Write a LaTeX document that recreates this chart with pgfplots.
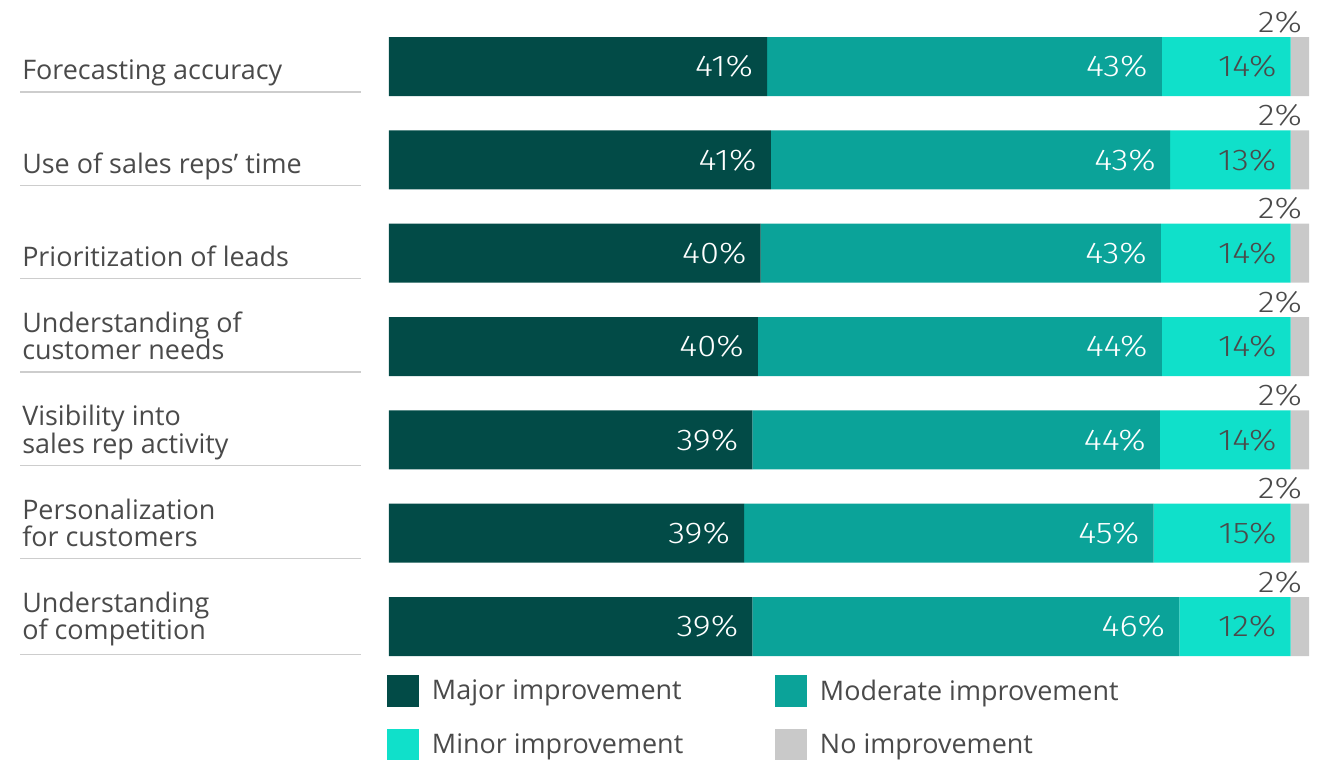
\documentclass[border=0pt]{standalone}
\usepackage{pgfplots}
\pgfplotsset{compat=1.18}
\usepackage{pgfplotstable}
\usepackage{fontspec}
\setmainfont{Open Sans}
\newfontfamily\numfont{Fira Sans Light}[FakeStretch=1.15]
\definecolor{cmajor}{HTML}{024B47}
\definecolor{cmod}{HTML}{0BA399}
\definecolor{cminor}{HTML}{10E0CA}
\definecolor{cnone}{HTML}{C9C9C9}
\definecolor{tgray}{HTML}{4A4A4A}
\definecolor{lgray}{HTML}{CDCDCD}

\pgfplotstableread{
row maj mod min non lmaj lmod lmin lnon
1 41.1 42.9 14.0 2.0 41 43 14 2
2 41.5 43.4 13.1 2.0 41 43 13 2
3 40.4 43.5 14.1 2.0 40 43 14 2
4 40.1 43.9 14.0 2.0 40 44 14 2
5 39.5 44.3 14.2 2.0 39 44 14 2
6 38.6 44.5 14.9 2.0 39 45 15 2
7 39.5 46.4 12.1 2.0 39 46 12 2
}\data

\begin{document}
\begin{tikzpicture}
\path[use as bounding box] (0,0) rectangle (996pt,570pt);
\begin{axis}[
  at={(291.75pt,65.12pt)}, anchor=south west,
  scale only axis, width=690pt, height=490pt,
  xbar stacked, bar width=44.25pt,
  xmin=0, xmax=100, ymin=0.5, ymax=7.5,
  y dir=reverse, enlargelimits=false, clip=false,
  hide x axis,
  axis line style={draw=none}, tick style={draw=none},
  ytick={1,...,7},
  yticklabels={
    {Forecasting accuracy\strut},
    {Use of sales reps’ time\strut},
    {Prioritization of leads\strut},
    {Understanding of\\customer needs\strut},
    {Visibility into\\sales rep activity\strut},
    {Personalization\\for customers\strut},
    {Understanding\\of competition\strut}},
  yticklabel style={font=\fontsize{20.2}{20.5}\selectfont, text=tgray,
    anchor=south west, align=left, inner sep=0pt,
    xshift=-275.25pt, yshift=-16.3pt},
  point meta=explicit symbolic,
  nodes near coords={\pgfplotspointmeta\%},
  nodes near coords style={anchor=east, xshift={3.45pt*\seg-10.5pt}, inner sep=0pt,
    font=\numfont\fontsize{22.5}{24}\selectfont},
  legend columns=2, legend cell align=left,
  legend style={at={(axis cs:-0.22,7.52)}, anchor=north west, draw=none, fill=none,
    inner sep=0pt, outer sep=0pt, text=tgray,
    font=\fontsize{20.2}{22}\selectfont,
    nodes={inner sep=0pt},
    /tikz/every odd column/.append style={column sep=9.75pt},
    /tikz/row sep=16.5pt},
  legend image code/.code={\fill[#1] (0pt,-12pt) rectangle (24pt,12pt);},
]
\addplot[fill=cmajor, draw=none, visualization depends on={\thisrow{maj}\as\seg},
  every node near coord/.append style={text=white}]
  table[x=maj, y=row, meta=lmaj]{\data};
\addplot[fill=cmod, draw=none, visualization depends on={\thisrow{mod}\as\seg},
  every node near coord/.append style={text=white}]
  table[x=mod, y=row, meta=lmod]{\data};
\addplot[fill=cminor, draw=none, visualization depends on={\thisrow{min}\as\seg},
  every node near coord/.append style={text=tgray}]
  table[x=min, y=row, meta=lmin]{\data};
\addplot[fill=cnone, draw=none, visualization depends on={\thisrow{non}\as\seg},
  every node near coord/.append style={text=tgray,
    anchor=south east, xshift={3.45pt*\seg-1.5pt}, yshift=25.1pt}]
  table[x=non, y=row, meta=lnon]{\data};
\addlegendentry{\makebox[257.25pt][l]{Major improvement}}
\addlegendentry{Moderate improvement}
\addlegendentry{\makebox[257.25pt][l]{Minor improvement}}
\addlegendentry{No improvement}
\draw[lgray, line width=1.1pt] (axis cs:-40.1,1.273) -- (axis cs:-3.04,1.273);
\draw[lgray, line width=1.1pt] (axis cs:-40.1,2.273) -- (axis cs:-3.04,2.273);
\draw[lgray, line width=1.1pt] (axis cs:-40.1,3.273) -- (axis cs:-3.04,3.273);
\draw[lgray, line width=1.1pt] (axis cs:-40.1,4.273) -- (axis cs:-3.04,4.273);
\draw[lgray, line width=1.1pt] (axis cs:-40.1,5.273) -- (axis cs:-3.04,5.273);
\draw[lgray, line width=1.1pt] (axis cs:-40.1,6.273) -- (axis cs:-3.04,6.273);
\draw[lgray, line width=1.1pt] (axis cs:-40.1,7.300) -- (axis cs:-3.04,7.300);
\end{axis}
\end{tikzpicture}
\end{document}
